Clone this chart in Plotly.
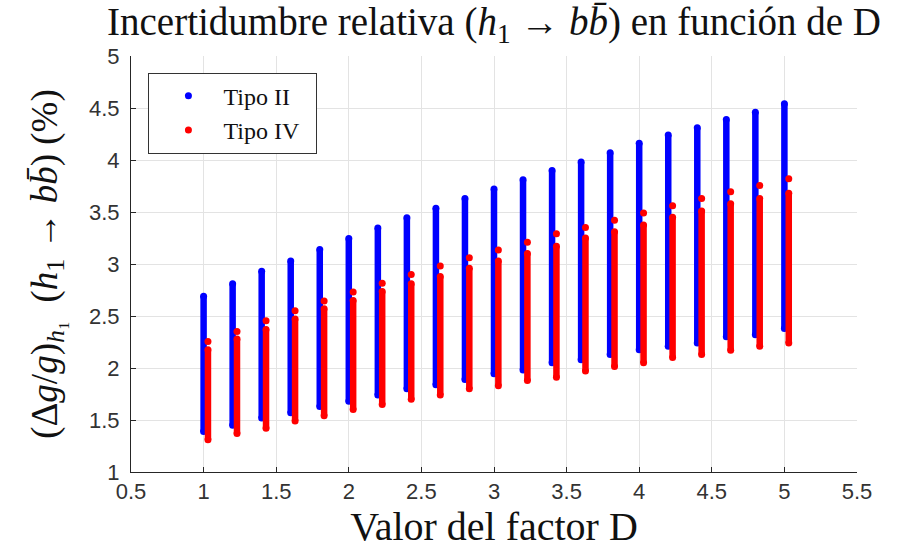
import plotly.graph_objects as go

# ---------------- data ----------------
D = [1.0, 1.2, 1.4, 1.6, 1.8, 2.0, 2.2, 2.4, 2.6, 2.8, 3.0,
     3.2, 3.4, 3.6, 3.8, 4.0, 4.2, 4.4, 4.6, 4.8, 5.0]

# Tipo II: range of relative uncertainty for each D
tipo2_min = [1.39, 1.45, 1.52, 1.57, 1.63, 1.68, 1.74, 1.80, 1.84, 1.89, 1.945,
             1.98, 2.05, 2.08, 2.13, 2.175, 2.21, 2.24, 2.30, 2.32, 2.38]
tipo2_max = [2.69, 2.81, 2.93, 3.03, 3.14, 3.245, 3.345, 3.445, 3.535, 3.63, 3.72,
             3.81, 3.90, 3.98, 4.07, 4.16, 4.24, 4.31, 4.39, 4.46, 4.54]

# Tipo IV: main band and isolated maximum for each D
tipo4_min = [1.31, 1.37, 1.42, 1.49, 1.54, 1.60, 1.65, 1.70, 1.74, 1.80, 1.83,
             1.88, 1.91, 1.97, 2.015, 2.05, 2.10, 2.13, 2.17, 2.21, 2.24]
tipo4_band_max = [2.175, 2.28, 2.37, 2.47, 2.57, 2.65, 2.735, 2.81, 2.88, 2.96, 3.03,
                  3.10, 3.17, 3.25, 3.31, 3.375, 3.45, 3.51, 3.58, 3.63, 3.68]
tipo4_peak = [2.255, 2.35, 2.455, 2.55, 2.645, 2.73, 2.815, 2.90, 2.98, 3.06, 3.135,
              3.21, 3.29, 3.35, 3.42, 3.49, 3.56, 3.63, 3.695, 3.755, 3.82]

X_TICKS = [0.5, 1, 1.5, 2, 2.5, 3, 3.5, 4, 4.5, 5, 5.5]
X_TICK_TEXT = ["0.5", "1", "1.5", "2", "2.5", "3", "3.5", "4", "4.5", "5", "5.5"]
Y_TICKS = [1, 1.5, 2, 2.5, 3, 3.5, 4, 4.5, 5]
Y_TICK_TEXT = ["1", "1.5", "2", "2.5", "3", "3.5", "4", "4.5", "5"]

# ---------------- styling ----------------
BLUE = "#0000ff"
RED = "#ff0000"
RED_SHIFT = 0.03          # Tipo IV drawn slightly to the right
STRIP_W = 6.5
DOT = 7
SERIF = "Liberation Serif, Times New Roman, serif"
SANS = "Liberation Sans, Arial, sans-serif"


def strips(xs, lo, hi):
    sx, sy = [], []
    for x, a, b in zip(xs, lo, hi):
        sx += [x, x, None]
        sy += [a, b, None]
    return sx, sy


d4 = [d + RED_SHIFT for d in D]

fig = go.Figure()

bx, by = strips(D, tipo2_min, tipo2_max)
fig.add_trace(go.Scatter(x=bx, y=by, mode="lines", line=dict(color=BLUE, width=STRIP_W),
                         showlegend=False, hoverinfo="skip"))
fig.add_trace(go.Scatter(x=D + D, y=tipo2_min + tipo2_max, mode="markers",
                         marker=dict(color=BLUE, size=DOT, line=dict(width=0)),
                         name="Tipo II&nbsp;&nbsp;"))

rx, ry = strips(d4, tipo4_min, tipo4_band_max)
fig.add_trace(go.Scatter(x=rx, y=ry, mode="lines", line=dict(color=RED, width=STRIP_W),
                         showlegend=False, hoverinfo="skip"))
fig.add_trace(go.Scatter(x=d4 + d4 + d4, y=tipo4_min + tipo4_band_max + tipo4_peak,
                         mode="markers",
                         marker=dict(color=RED, size=DOT, line=dict(width=0)),
                         name="Tipo IV&nbsp;&nbsp;"))

axis_common = dict(
    showgrid=True, gridcolor="#e3e3e3", gridwidth=1,
    zeroline=False, showline=True, linecolor="#262626", linewidth=1,
    ticks="inside", ticklen=5, tickcolor="#262626", mirror=False,
    tickfont=dict(family=SANS, size=22, color="#333333"),
)

fig.update_layout(
    width=911, height=550,
    margin=dict(l=131, r=54, t=56, b=78),
    paper_bgcolor="white", plot_bgcolor="white",
    title=dict(
        text="Incertidumbre relativa (<i>h</i><sub>1</sub> → <i>b</i><i>b̄</i>) en función de D",
        font=dict(family=SERIF, size=39, color="#111111"),
        x=0.5, xref="paper", xanchor="center",
        y=1 - 21 / 550, yref="container", yanchor="middle",
    ),
    xaxis=dict(range=[0.5, 5.5], tickvals=X_TICKS, ticktext=X_TICK_TEXT,
               title=dict(text="Valor del factor D",
                          font=dict(family=SERIF, size=40, color="#111111"),
                          standoff=0),
               **axis_common),
    yaxis=dict(range=[1, 5], tickvals=Y_TICKS, ticktext=Y_TICK_TEXT,
               ticklabelstandoff=6,
               title=dict(text="(Δ<i>g</i>/<i>g</i>)<sub><i>h</i>₁</sub>  (<i>h</i><sub>1</sub> → <i>b</i><i>b̄</i>) (%)",
                          font=dict(family=SERIF, size=37, color="#111111"),
                          standoff=20),
               **axis_common),
    legend=dict(
        x=0.024, y=0.96, xanchor="left", yanchor="top",
        bgcolor="white", bordercolor="#333333", borderwidth=1,
        font=dict(family=SERIF, size=24, color="#111111"),
        indentation=4, itemwidth=60,
        tracegroupgap=0,
    ),
    showlegend=True,
)

fig.write_html("out.html")
